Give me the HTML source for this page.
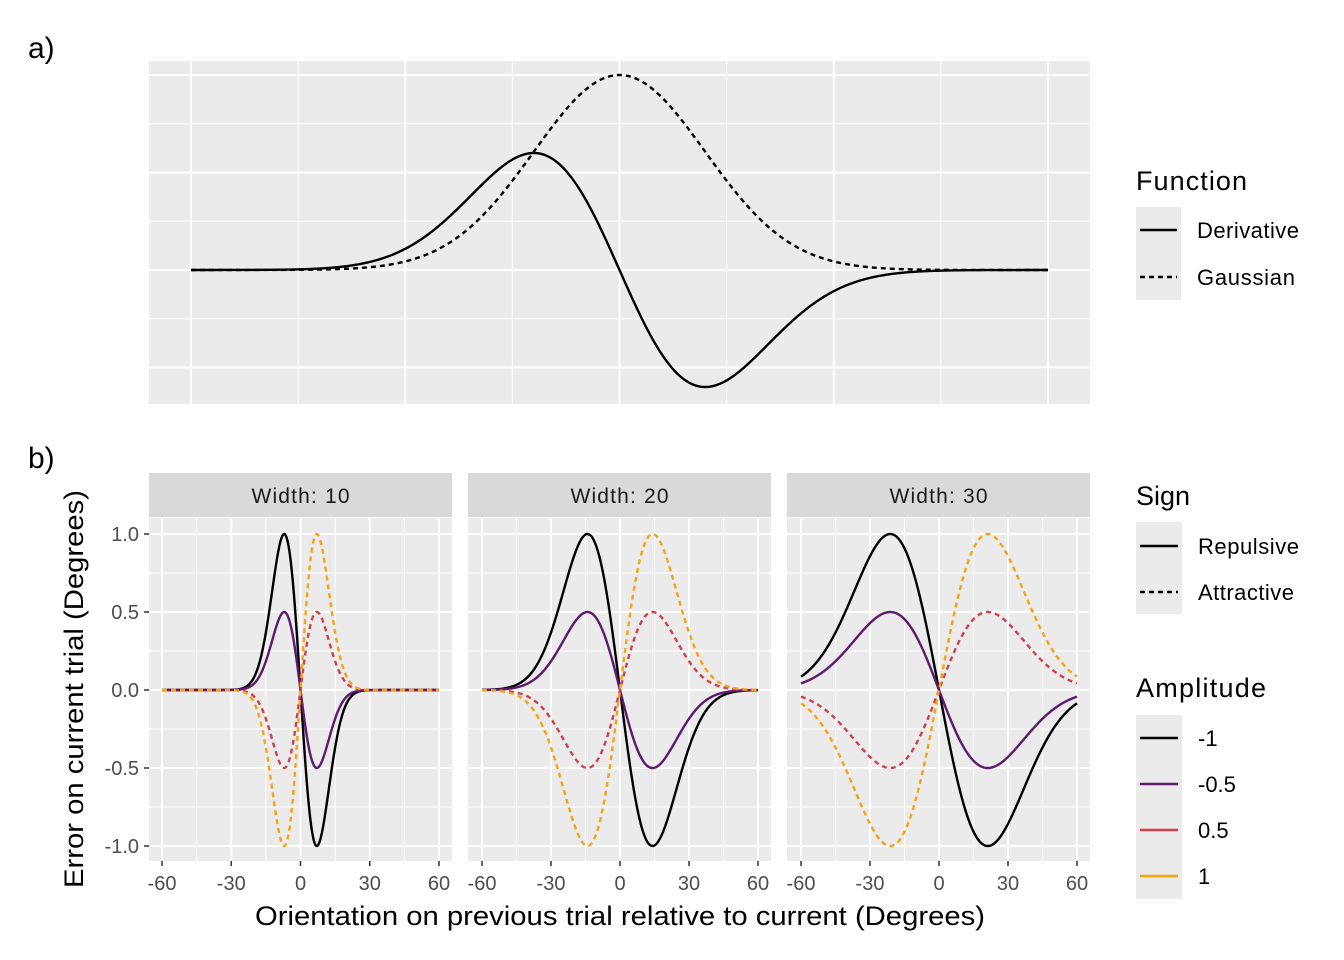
<!DOCTYPE html>
<html><head><meta charset="utf-8"><style>
body{margin:0;background:#fff}
svg{display:block;font-family:"Liberation Sans",Arial,sans-serif}
</style></head><body>
<svg id="c" width="1344" height="960" viewBox="0 0 1344 960"></svg>
<script>
// ---- data ----
const panelAFunctions = ["Derivative","Gaussian"];
const panelASigma = [12];
const panelAPeaks = [0.6, 1.0];          // derivative peak, gaussian peak
const facetWidths = [10, 20, 30];
const amplitudes = [-1, -0.5, 0.5, 1];
const ampColors = ["#000000","#5d1a6e","#d1414c","#f9a314"];
const xTicks = [-60, -30, 0, 30, 60];
const yTicks = [-1.0, -0.5, 0.0, 0.5, 1.0];
const yTickLabels = ["-1.0","-0.5","0.0","0.5","1.0"];

const NS="http://www.w3.org/2000/svg";
const svg=document.getElementById('c');
function mk(tag,attrs,parent,name){const e=document.createElementNS(NS,tag);for(const k in attrs)e.setAttribute(k,attrs[k]);


(parent||svg).appendChild(e);return e;}
function txt(s,attrs,name){const t=mk('text',attrs,svg,name);t.textContent=s;return t;}

function scale(d0,d1,r0,r1){return v=>r0+(v-d0)/(d1-d0)*(r1-r0);}
function gridPanel(x0,x1,y0,y1,sx,sy,xMaj,yMaj,name){
  mk('rect',{x:x0,y:y0,width:x1-x0,height:y1-y0,fill:'#ebebeb'},svg,name+'-bg');
  for(let i=0;i<xMaj.length-1;i++){const m=(xMaj[i]+xMaj[i+1])/2;mk('line',{x1:sx(m),x2:sx(m),y1:y0,y2:y1,stroke:'#fff','stroke-width':1},svg,name+'-minor-grid-x');}
  for(let i=0;i<yMaj.length-1;i++){const m=(yMaj[i]+yMaj[i+1])/2;mk('line',{x1:x0,x2:x1,y1:sy(m),y2:sy(m),stroke:'#fff','stroke-width':1},svg,name+'-minor-grid-y');}
  xMaj.forEach(v=>mk('line',{x1:sx(v),x2:sx(v),y1:y0,y2:y1,stroke:'#fff','stroke-width':2},svg,name+'-grid-x'));
  yMaj.forEach(v=>mk('line',{x1:x0,x2:x1,y1:sy(v),y2:sy(v),stroke:'#fff','stroke-width':2},svg,name+'-grid-y'));
}
function curve(f,sx,sy,style,name){
  let d='';for(let x=-60;x<=60.0001;x+=0.25){d+=(d?'L':'M')+sx(x).toFixed(2)+','+sy(f(x)).toFixed(2);}
  mk('path',Object.assign({d:d,fill:'none','stroke-width':2.4},style),svg,name);
}

// ---- panel a ----
txt('a)',{x:28,y:58,'font-size':30,fill:'#000'},'panel-a-label');
const ax=scale(-60,60,191,1048), ay=scale(0,1,270,75);
gridPanel(149,1090,61,404,ax,ay,[-60,-30,0,30,60],[-0.5,0,0.5,1],'panel-a');
const s=panelASigma[0];
curve(x=>panelAPeaks[1]*Math.exp(-x*x/(2*s*s)),ax,ay,{stroke:'#000','stroke-dasharray':'5,4'},'gaussian-line');
curve(x=>-panelAPeaks[0]*(x/s)*Math.exp(0.5-x*x/(2*s*s)),ax,ay,{stroke:'#000'},'derivative-line');

// legend a
txt('Function',{x:1136,y:190,'font-size':27,fill:'#000',textLength:111},'function-legend-title');
mk('rect',{x:1136,y:207,width:45,height:93,fill:'#ebebeb'},svg,'function-legend-keys');
[[230,null,102],[277,'5,4',98]].forEach((r,i)=>{
  const a={x1:1140,x2:1177,y1:r[0],y2:r[0],stroke:'#000','stroke-width':2.4};if(r[1])a['stroke-dasharray']=r[1];
  mk('line',a,svg,'function-legend-key');
  txt(panelAFunctions[i],{x:1197,y:r[0]+8,'font-size':22,fill:'#000',textLength:r[2]},'function-legend-entry');
});

// ---- panel b ----
txt('b)',{x:28,y:468,'font-size':30,fill:'#000'},'panel-b-label');
const facetX=[[149,452,162,439],[468,771,482,758],[787,1090,801,1077]];
const by=scale(-1,1,846,534);
facetWidths.forEach((w,fi)=>{
  const [x0,x1,a0,a1]=facetX[fi];const sx=scale(-60,60,a0,a1);
  mk('rect',{x:x0,y:473,width:x1-x0,height:44,fill:'#d9d9d9'},svg,'facet-strip');
  txt('Width: '+w,{x:(x0+x1)/2,y:503,'font-size':21,fill:'#1a1a1a','text-anchor':'middle',textLength:98},'facet-strip-label');
  gridPanel(x0,x1,518,861,sx,by,xTicks,yTicks,'facet-'+w);
  const sg=w/Math.SQRT2;
  amplitudes.forEach((A,ai)=>{
    const st={stroke:ampColors[ai]};if(A>0)st['stroke-dasharray']='5,4';
    curve(x=>A*(x/sg)*Math.exp(0.5-x*x/(2*sg*sg)),sx,by,st,'curve-width'+w+'-amp'+A);
  });
  xTicks.forEach(v=>{
    mk('line',{x1:sx(v),x2:sx(v),y1:861,y2:866,stroke:'#333','stroke-width':1.5},svg,'x-tick');
    txt(String(v),{x:sx(v),y:890,'font-size':20,fill:'#4d4d4d','text-anchor':'middle'},'x-tick-label');
  });
});
yTicks.forEach((v,i)=>{
  mk('line',{x1:144,x2:149,y1:by(v),y2:by(v),stroke:'#333','stroke-width':1.5},svg,'y-tick');
  txt(yTickLabels[i],{x:139,y:by(v)+7,'font-size':20,fill:'#4d4d4d','text-anchor':'end'},'y-tick-label');
});
txt('Orientation on previous trial relative to current (Degrees)',{x:620,y:925,'font-size':27,fill:'#000','text-anchor':'middle',textLength:730,lengthAdjust:'spacingAndGlyphs'},'x-axis-title');
txt('Error on current trial (Degrees)',{x:0,y:0,'font-size':27,fill:'#000','text-anchor':'middle',textLength:398,lengthAdjust:'spacingAndGlyphs',transform:'translate(83,689) rotate(-90)'},'y-axis-title');

// legend b: sign
txt('Sign',{x:1136,y:505,'font-size':27,fill:'#000'},'sign-legend-title');
mk('rect',{x:1136,y:522,width:46,height:92,fill:'#ebebeb'},svg,'sign-legend-keys');
[['Repulsive',546,null,101],['Attractive',592,'5,4',96]].forEach(r=>{
  const a={x1:1140,x2:1178,y1:r[1],y2:r[1],stroke:'#000','stroke-width':2.4};if(r[2])a['stroke-dasharray']=r[2];
  mk('line',a,svg,'sign-legend-key');
  txt(r[0],{x:1198,y:r[1]+8,'font-size':22,fill:'#000',textLength:r[3]},'sign-legend-entry');
});
// legend b: amplitude
txt('Amplitude',{x:1136,y:697,'font-size':27,fill:'#000',textLength:130},'amplitude-legend-title');
mk('rect',{x:1136,y:715,width:46,height:184,fill:'#ebebeb'},svg,'amplitude-legend-keys');
amplitudes.forEach((A,i)=>{
  const y=738+46*i;
  mk('line',{x1:1140,x2:1178,y1:y,y2:y,stroke:ampColors[i],'stroke-width':2.4},svg,'amplitude-legend-key');
  txt(String(A),{x:1198,y:y+8,'font-size':22,fill:'#000'},'amplitude-legend-entry');
});
</script>
</body></html>
